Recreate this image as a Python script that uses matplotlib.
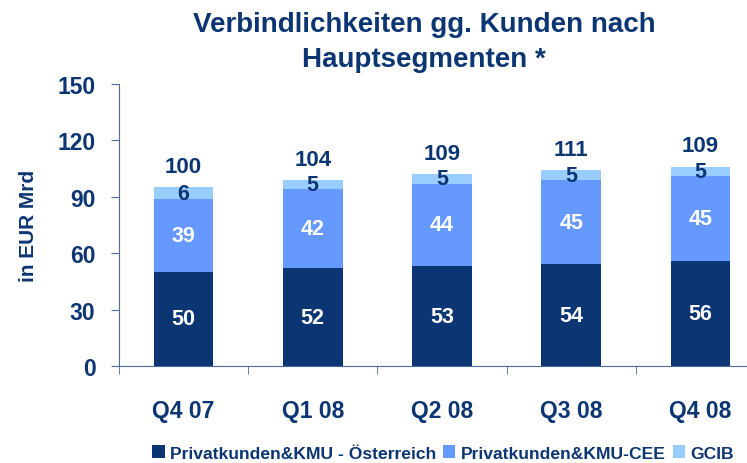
import matplotlib
matplotlib.use("Agg")
import matplotlib.pyplot as plt
import numpy as np

quarters = ["Q4 07", "Q1 08", "Q2 08", "Q3 08", "Q4 08"]
oesterreich = [50, 52, 53, 54, 56]
cee = [39, 42, 44, 45, 45]
gcib = [6, 5, 5, 5, 5]
totals = [100, 104, 109, 111, 109]
series_names = ["Privatkunden&KMU - Österreich", "Privatkunden&KMU-CEE", "GCIB"]

navy = "#0B3573"
mid_blue = "#6699FF"
light_blue = "#99CCFF"
axis_col = "#4A6A99"

plt.rcParams["font.family"] = ["Liberation Sans", "DejaVu Sans"]
plt.rcParams["font.weight"] = "bold"

fig = plt.figure(figsize=(7.47, 4.64), dpi=100)
ax = fig.add_axes([119 / 747, 1 - 367 / 464, 646 / 747, (367 - 85) / 464])

x = np.arange(len(quarters))
w = 0.46
b1 = ax.bar(x, oesterreich, w, color=navy, label=series_names[0])
bottom2 = np.array(oesterreich)
b2 = ax.bar(x, cee, w, bottom=bottom2, color=mid_blue, label=series_names[1])
bottom3 = bottom2 + np.array(cee)
b3 = ax.bar(x, gcib, w, bottom=bottom3, color=light_blue, label=series_names[2])

for i in range(len(quarters)):
    ax.text(x[i], oesterreich[i] / 2, str(oesterreich[i]), ha="center", va="center",
            color="white", fontsize=15.5, fontweight="bold")
    ax.text(x[i], bottom2[i] + cee[i] / 2, str(cee[i]), ha="center", va="center",
            color="white", fontsize=15.5, fontweight="bold")
    ax.text(x[i], bottom3[i] + gcib[i] / 2, str(gcib[i]), ha="center", va="center",
            color=navy, fontsize=15.5, fontweight="bold")
    top = bottom3[i] + gcib[i]
    ax.annotate(str(totals[i]), (x[i], top), xytext=(0, 15), textcoords="offset points",
                ha="center", va="center", color=navy, fontsize=16, fontweight="bold")

ax.set_xlim(-0.5, len(quarters) - 0.5)
ax.set_ylim(0, 150)
ax.set_yticks(range(0, 151, 30))
ax.set_xticks(x)
ax.set_xticklabels(quarters)
ax.set_xticks(np.arange(-0.5, len(quarters), 1), minor=True)
ax.tick_params(axis="x", which="major", length=0, pad=24, labelsize=16.5, labelcolor=navy)
ax.tick_params(axis="x", which="minor", length=6, direction="out", color=axis_col)
ax.tick_params(axis="y", length=6, direction="out", color=axis_col, pad=11,
               labelsize=16.5, labelcolor=navy)
for lab in ax.get_xticklabels() + ax.get_yticklabels():
    lab.set_fontweight("bold")

for s in ["top", "right"]:
    ax.spines[s].set_visible(False)
for s in ["left", "bottom"]:
    ax.spines[s].set_color(axis_col)

ax.set_ylabel("in EUR Mrd", fontsize=15, color=navy, fontweight="bold", labelpad=14)

fig.text(424 / 747, 1 - 25 / 464, "Verbindlichkeiten gg. Kunden nach", ha="center", va="center",
         fontsize=20, color=navy, fontweight="bold")
fig.text(424 / 747, 1 - 60 / 464, "Hauptsegmenten *", ha="center", va="center",
         fontsize=20, color=navy, fontweight="bold")

fig.legend(handles=[b1, b2, b3], loc="center", bbox_to_anchor=(443 / 747, 1 - 454 / 464),
           ncol=3, frameon=False, handlelength=0.7, handleheight=0.7,
           handletextpad=0.3, columnspacing=0.4, labelcolor=navy,
           borderpad=0.2, prop={"weight": "bold", "size": 12.6})

fig.savefig("out.png", dpi=100)
